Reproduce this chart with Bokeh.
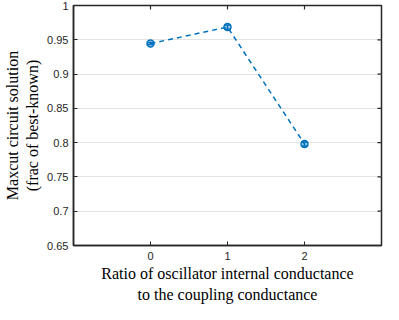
from bokeh.plotting import figure
from bokeh.models import Range1d, FixedTicker, Whisker, ColumnDataSource, CustomJSTickFormatter, Title
from bokeh.embed import file_html
from bokeh.resources import INLINE

ratio = [0, 1, 2]
score = [0.9445, 0.9685, 0.798]
err = [0.0015, 0.003, 0.003]
y_ticks = [0.65, 0.7, 0.75, 0.8, 0.85, 0.9, 0.95, 1.0]
x_ticks = [0, 1, 2]
x_min, x_max = -1, 3
y_min, y_max = 0.65, 1.0
x_title_lines = ["Ratio of oscillator internal conductance", "to the coupling conductance"]
y_title = "Maxcut circuit solution\n(frac of best-known)"

blue = "#0072BD"
axc = "#262626"

src = ColumnDataSource(dict(x=ratio, y=score,
                            lo=[s - e for s, e in zip(score, err)],
                            hi=[s + e for s, e in zip(score, err)]))

p = figure(width=383, height=304, output_backend="svg", toolbar_location=None,
           x_range=Range1d(x_min, x_max), y_range=Range1d(y_min, y_max),
           min_border_left=0, min_border_right=2, min_border_top=5, min_border_bottom=0,
           y_axis_label=y_title)
p.outline_line_color = axc
p.outline_line_width = 1.5

p.xgrid.grid_line_color = None
p.ygrid.grid_line_color = "#e3e3e3"
p.ygrid.ticker = FixedTicker(ticks=y_ticks)

# inward ticks on top and right edges
p.scatter(x=x_ticks, y=[y_max] * len(x_ticks), marker="dash", angle=1.5708, size=8,
          line_color=axc, line_width=1.2)
p.scatter(x=[x_max] * len(y_ticks), y=y_ticks, marker="dash", size=8,
          line_color=axc, line_width=1.2)

p.line("x", "y", source=src, line_color=blue, line_width=1.5, line_dash="5 4")
wh = Whisker(source=src, base="x", lower="lo", upper="hi", line_color=blue, line_width=1.5)
for h in (wh.upper_head, wh.lower_head):
    h.line_color = blue
    h.size = 7
    h.line_width = 1.5
p.add_layout(wh)
p.scatter("x", "y", source=src, size=7, line_color=blue, line_width=1.5, fill_color=blue, fill_alpha=0.35)

for ax in p.yaxis:
    ax.ticker = FixedTicker(ticks=y_ticks)
    ax.formatter = CustomJSTickFormatter(code="""
        const k = Math.round(tick*100)/100;
        return k.toString();
    """)
for ax in p.xaxis:
    ax.ticker = FixedTicker(ticks=x_ticks)

for ax in p.xaxis + p.yaxis:
    ax.axis_line_color = axc
    ax.axis_line_width = 1.5
    ax.major_tick_line_color = axc
    ax.major_tick_in = 4
    ax.major_tick_out = 0
    ax.minor_tick_line_color = None
    ax.major_label_text_font = "Liberation Sans"
    ax.major_label_text_font_size = "11px"
    ax.major_label_text_color = axc
    ax.axis_label_text_font = "Liberation Serif"
    ax.axis_label_text_font_size = "16px"
    ax.axis_label_text_font_style = "normal"
    ax.axis_label_text_color = "#000000"
    ax.axis_label_text_line_height = 1.2

p.xaxis.major_label_standoff = 6
p.yaxis.major_label_standoff = 5
p.yaxis.axis_label_standoff = 3

for i, line in enumerate(x_title_lines):
    t = Title(text=line, align="center", text_font="Liberation Serif", text_font_size="16px",
              text_font_style="normal", text_color="#000000",
              standoff=1 if i == 0 else 3, offset=0)
    p.add_layout(t, "below")

open("out.html", "w").write(file_html(p, INLINE))
